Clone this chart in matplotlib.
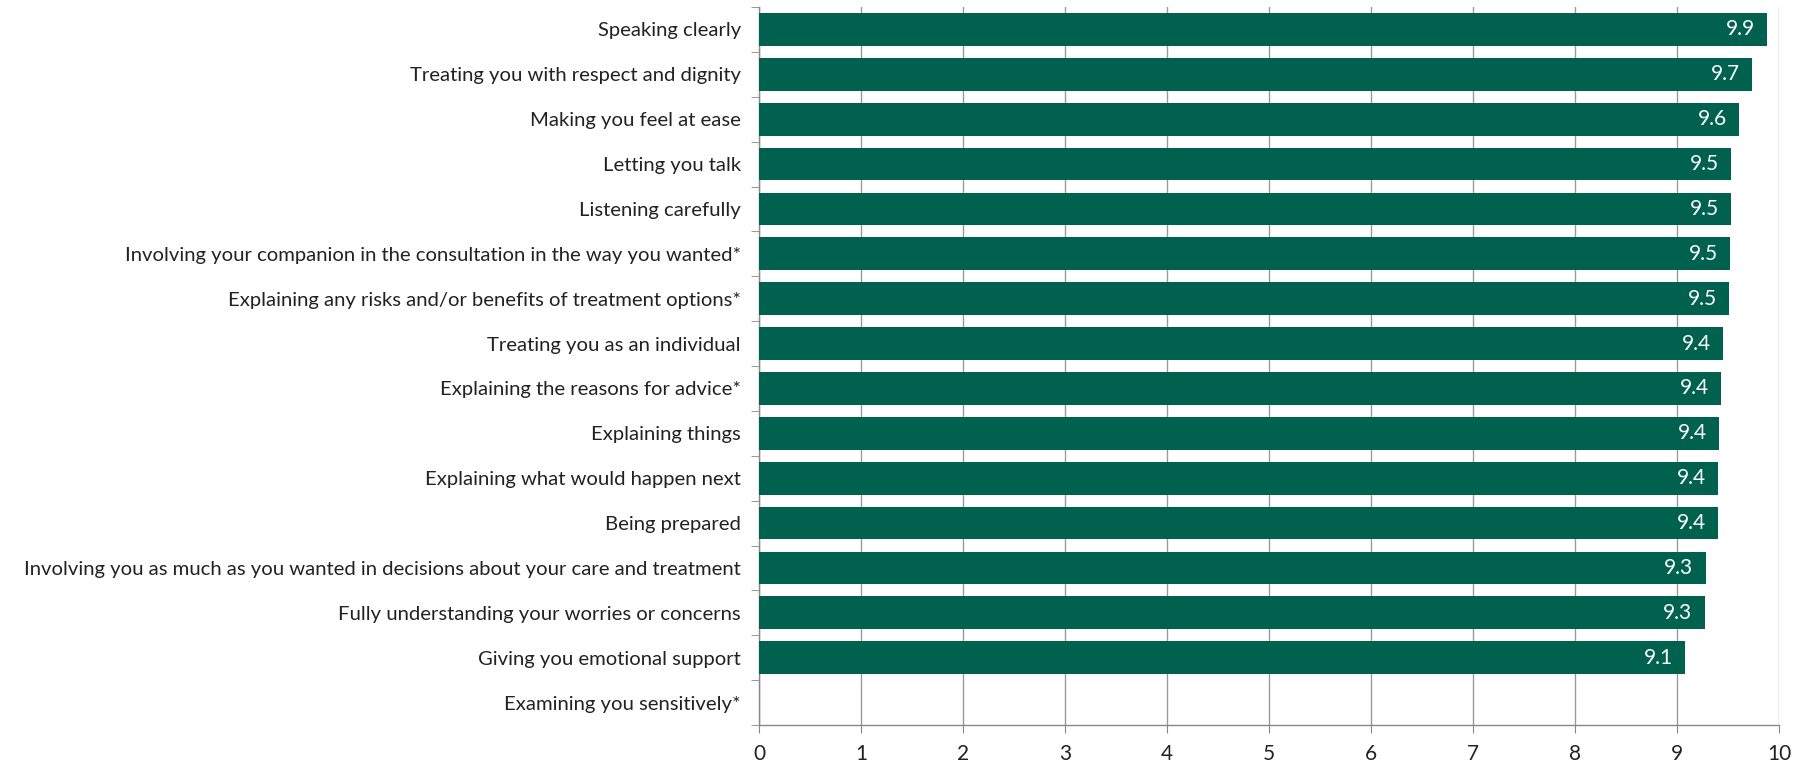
import matplotlib.pyplot as plt
import numpy as np

categories = [
    "Speaking clearly",
    "Treating you with respect and dignity",
    "Making you feel at ease",
    "Letting you talk",
    "Listening carefully",
    "Involving your companion in the consultation in the way you wanted*",
    "Explaining any risks and/or benefits of treatment options*",
    "Treating you as an individual",
    "Explaining the reasons for advice*",
    "Explaining things",
    "Explaining what would happen next",
    "Being prepared",
    "Involving you as much as you wanted in decisions about your care and treatment",
    "Fully understanding your worries or concerns",
    "Giving you emotional support",
    "Examining you sensitively*",
]
values = [9.88, 9.74, 9.61, 9.53, 9.53, 9.52, 9.51, 9.45, 9.43, 9.41, 9.40, 9.40, 9.28, 9.27, 9.08, np.nan]
value_labels = ["9.9", "9.7", "9.6", "9.5", "9.5", "9.5", "9.5", "9.4", "9.4", "9.4", "9.4", "9.4", "9.3", "9.3", "9.1", ""]
xticks = list(range(0, 11))

plt.rcParams['font.family'] = ['Lato', 'DejaVu Sans']

fig = plt.figure(figsize=(18.05, 7.66), dpi=100)
ax = fig.add_axes([759/1805, 1-725/766, 1020/1805, 718/766])

n = len(categories)
y = np.arange(n)
bar_color = "#00614F"
ax.barh(y, np.nan_to_num(values), height=0.73, color=bar_color, zorder=3)
for yi, v, lab in zip(y, values, value_labels):
    if lab:
        ax.text(v - 0.12, yi, lab, ha="right", va="center", color="white", fontsize=15, zorder=4)

ax.set_ylim(n - 0.5, -0.5)
ax.set_xlim(0, 10)
ax.set_yticks(y)
ax.set_yticklabels(categories, fontsize=14.6, color="#222222")
ax.set_yticks(np.arange(-0.5, n, 1), minor=True)
ax.tick_params(axis="y", which="major", length=0, pad=13)
ax.tick_params(axis="y", which="minor", length=6, color="#888888", direction="out")
ax.set_xticks(xticks)
ax.set_xticklabels([str(t) for t in xticks], fontsize=15, color="#222222")
ax.tick_params(axis="x", length=6, color="#888888", direction="out", pad=8)
ax.grid(axis="x", color="#9a9a9a", linewidth=1.0, zorder=0)
for s in ["top", "right"]:
    ax.spines[s].set_visible(False)
for s in ["left", "bottom"]:
    ax.spines[s].set_color("#888888")
    ax.spines[s].set_linewidth(1.0)

fig.savefig("out.png", dpi=100)
